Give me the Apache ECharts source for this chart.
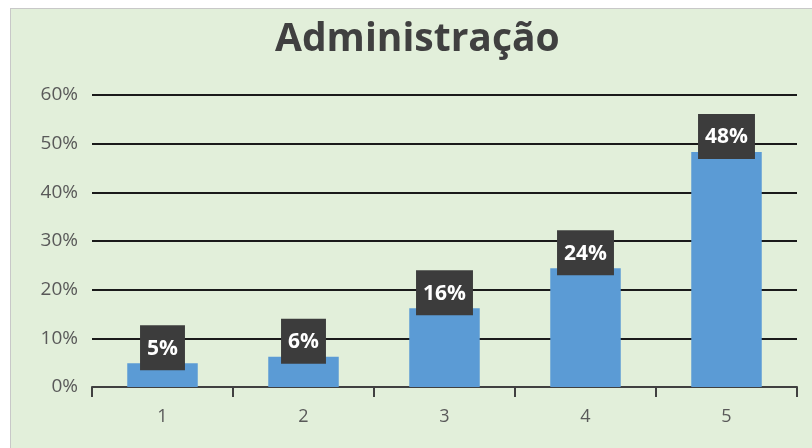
<!DOCTYPE html>
<html>
<head>
<meta charset="utf-8">
<script src="https://cdn.jsdelivr.net/npm/echarts@6/dist/echarts.min.js"></script>
<style>
  html, body { margin: 0; padding: 0; background: #ffffff; }
  #chart {
    position: absolute;
    left: 10px;
    top: 8px;
    width: 802px;
    height: 440px;
    background: #e2efda;
    border-left: 1px solid #c8c8c8;
    border-top: 1px solid #c8c8c8;
    box-sizing: border-box;
  }
</style>
</head>
<body>
<div id="chart"></div>
<script>
  // dados do gráfico
  const categories = ['1', '2', '3', '4', '5']
  const values = [4.9, 6.2, 16.2, 24.4, 48.3]
  const yTicks = [0, 10, 20, 30, 40, 50, 60]

  const chart = echarts.init(document.getElementById('chart'))
  chart.setOption({
    animation: false,
    title: {
      text: 'Administração',
      left: 259,
      top: 6,
      textStyle: {
        fontFamily: 'Open Sans',
        fontWeight: 'bold',
        fontSize: 39,
        color: '#404040'
      }
    },
    grid: {left: 81, right: 15, top: 86, bottom: 61},
    xAxis: {
      type: 'category',
      data: categories,
      axisLine: {lineStyle: {color: '#404040', width: 2}},
      axisTick: {show: true, length: 10, lineStyle: {color: '#404040', width: 2}},
      axisLabel: {
        margin: 21,
        fontFamily: 'Open Sans',
        fontSize: 18,
        color: '#595959'
      }
    },
    yAxis: {
      type: 'value',
      min: yTicks[0],
      max: yTicks[yTicks.length - 1],
      interval: 10,
      axisLine: {show: false},
      axisTick: {show: false},
      splitLine: {lineStyle: {color: '#1a1a1a', width: 2}},
      axisLabel: {
        margin: 14,
        fontFamily: 'Open Sans',
        fontSize: 19,
        color: '#595959',
        formatter: v => v + '%'
      }
    },
    series: [{
      type: 'bar',
      data: values,
      barWidth: '50%',
      itemStyle: {color: '#5b9bd5'},
      label: {
        show: true,
        position: 'top',
        distance: -7,
        formatter: p => Math.round(p.value) + '%',
        backgroundColor: '#3c3c3c',
        padding: [13, 7, 11, 7],
        fontFamily: 'Open Sans',
        fontWeight: 'bold',
        fontSize: 21,
        color: '#ffffff'
      }
    }]
  })
</script>
</body>
</html>
